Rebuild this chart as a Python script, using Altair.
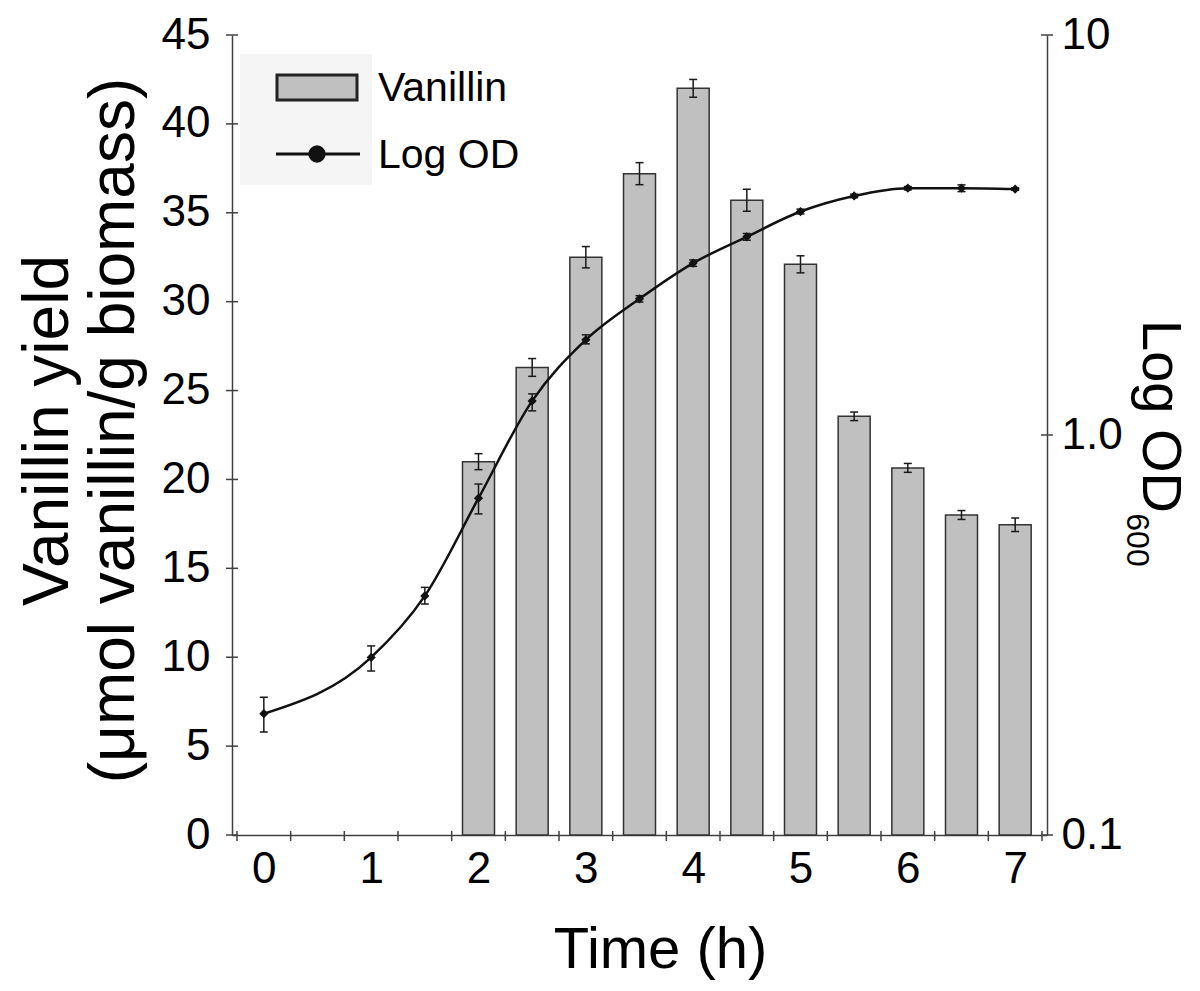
import altair as alt
import pandas as pd

# ---- data ----
bar_times = [2, 2.5, 3, 3.5, 4, 4.5, 5, 5.5, 6, 6.5, 7]
vanillin = [21.0, 26.3, 32.5, 37.2, 42.0, 35.7, 32.1, 23.55, 20.65, 18.0, 17.45]
vanillin_err = [0.45, 0.5, 0.6, 0.62, 0.5, 0.62, 0.48, 0.24, 0.25, 0.25, 0.38]

od_times = [0, 1, 1.5, 2, 2.5, 3, 3.5, 4, 4.5, 5, 5.5, 6, 6.5, 7]
od = [0.201, 0.278, 0.396, 0.695, 1.217, 1.73, 2.19, 2.69, 3.13, 3.62, 3.96, 4.14, 4.14, 4.12]
od_lo = [0.181, 0.257, 0.378, 0.635, 1.149, 1.69, 2.15, 2.64, 3.07, 3.57, 3.92, 4.10, 4.06, 4.09]
od_hi = [0.221, 0.297, 0.416, 0.754, 1.267, 1.78, 2.23, 2.74, 3.19, 3.67, 4.00, 4.18, 4.22, 4.15]

x_tick_positions = [-0.25, 0.25, 0.75, 1.25, 1.75, 2.25, 2.75, 3.25, 3.75,
                    4.25, 4.75, 5.25, 5.75, 6.25, 6.75, 7.25]
x_labels = [0, 1, 2, 3, 4, 5, 6, 7]
left_ticks = [0, 5, 10, 15, 20, 25, 30, 35, 40, 45]
right_ticks = [0.1, 1, 10]
legend_names = ["Vanillin", "Log OD"]

FONT = "Liberation Sans"
W, H = 815, 800
AX = "#404040"
INK = "#1a1a1a"

bars_df = pd.DataFrame({
    "t": bar_times, "v": vanillin,
    "lo": [v - e for v, e in zip(vanillin, vanillin_err)],
    "hi": [v + e for v, e in zip(vanillin, vanillin_err)],
})
od_df = pd.DataFrame({"t": od_times, "od": od, "lo": od_lo, "hi": od_hi})
xt_df = pd.DataFrame({"t": x_tick_positions})
lt_df = pd.DataFrame({"v": left_ticks})
rt_df = pd.DataFrame({"od": right_ticks})

x_axis = alt.Axis(values=x_labels, ticks=False, tickSize=0, grid=False,
                  domainColor=AX, domainWidth=1.5, labelFontSize=44,
                  labelPadding=12, labelFlush=False, labelColor="black",
                  title="Time (h)", titleFontSize=58, titleFontWeight="normal",
                  titleX=428, titleY=132, titleAlign="center",
                  titleBaseline="alphabetic", titleColor="black")
x_scale = alt.Scale(domain=[-0.25, 7.25], nice=False, zero=False)


def X(field="t"):
    return alt.X(f"{field}:Q", scale=x_scale, axis=x_axis)


left_axis = alt.Axis(values=left_ticks, ticks=False, tickSize=0, grid=False,
                     domainColor=AX, domainWidth=1.5, labelFontSize=44,
                     labelPadding=22, labelFlush=False, labelColor="black",
                     title=["Vanillin yield", "(\u03bcmol vanillin/g biomass)"],
                     titleFontSize=64, titleLineHeight=66, titleFontWeight="normal",
                     titleAngle=270, titleX=-184, titleY=395, titleAlign="center",
                     titleBaseline="middle", titleColor="black")
left_scale = alt.Scale(domain=[0, 45], nice=False, zero=True)


def YL(field):
    return alt.Y(f"{field}:Q", scale=left_scale, axis=left_axis)


right_axis = alt.Axis(orient="right", values=right_ticks, ticks=False, tickSize=0,
                      grid=False, domainColor=AX, domainWidth=1.5, labelFontSize=44,
                      labelPadding=14, labelFlush=False, labelColor="black",
                      labelExpr="datum.value >= 10 ? '10' : format(datum.value, '.1f')",
                      title="Log OD", titleFontSize=56, titleFontWeight="normal",
                      titleAngle=90, titleX=112, titleY=381, titleAlign="center",
                      titleBaseline="middle", titleColor="black")
right_scale = alt.Scale(type="log", domain=[0.1, 10], nice=False)


def YR(field):
    return alt.Y(f"{field}:Q", scale=right_scale, axis=right_axis)


# ---- left (vanillin) layer ----
bars = alt.Chart(bars_df).mark_bar(size=32, fill="#c0c0c0", stroke="#333333",
                                   strokeWidth=1.5).encode(x=X(), y=YL("v"))
bar_err = alt.Chart(bars_df).mark_rule(color=INK, strokeWidth=1.5).encode(
    x=X(), y=YL("lo"), y2="hi:Q")
bar_cap_hi = alt.Chart(bars_df).mark_tick(orient="horizontal", size=8, thickness=1.5,
                                          color=INK, opacity=1).encode(x=X(), y=YL("hi"))
bar_cap_lo = alt.Chart(bars_df).mark_tick(orient="horizontal", size=8, thickness=1.5,
                                          color=INK, opacity=1).encode(x=X(), y=YL("lo"))
lticks = alt.Chart(lt_df).mark_rule(color=AX, strokeWidth=1.5).encode(
    y=YL("v"), x=alt.value(-6), x2=alt.value(6))
xticks = alt.Chart(xt_df).mark_rule(color=AX, strokeWidth=1.5).encode(
    x=X(), y=alt.value(H - 4), y2=alt.value(H + 6))

left = alt.layer(bars, bar_err, bar_cap_hi, bar_cap_lo, lticks, xticks)

# ---- right (OD) layer ----
line = alt.Chart(od_df).mark_line(color="#111111", strokeWidth=2.5,
                                  interpolate="monotone").encode(x=X(), y=YR("od"))
pts = alt.Chart(od_df).mark_point(shape="diamond", filled=True, size=85,
                                  color="#111111", opacity=1).encode(x=X(), y=YR("od"))
od_err = alt.Chart(od_df).mark_rule(color=INK, strokeWidth=1.5).encode(
    x=X(), y=YR("lo"), y2="hi:Q")
od_cap_hi = alt.Chart(od_df).mark_tick(orient="horizontal", size=8, thickness=1.5,
                                       color=INK, opacity=1).encode(x=X(), y=YR("hi"))
od_cap_lo = alt.Chart(od_df).mark_tick(orient="horizontal", size=8, thickness=1.5,
                                       color=INK, opacity=1).encode(x=X(), y=YR("lo"))
rticks = alt.Chart(rt_df).mark_rule(color=AX, strokeWidth=1.5).encode(
    y=YR("od"), x=alt.value(W - 6), x2=alt.value(W + 6))

right = alt.layer(line, od_err, od_cap_hi, od_cap_lo, pts, rticks)

# ---- legend & subscript ----
one = pd.DataFrame({"k": [0]})
leg_box = alt.Chart(one).mark_rect(fill="#f5f5f5").encode(
    x=alt.value(8), x2=alt.value(140), y=alt.value(19), y2=alt.value(150))
leg_bar = alt.Chart(one).mark_rect(fill="#c0c0c0", stroke="#222222", strokeWidth=3).encode(
    x=alt.value(45), x2=alt.value(125), y=alt.value(40), y2=alt.value(65))
leg_line = alt.Chart(one).mark_rule(color="#111111", strokeWidth=3).encode(
    x=alt.value(44), x2=alt.value(128), y=alt.value(119))
leg_dot = alt.Chart(one).mark_point(shape="circle", filled=True, size=300,
                                    color="#111111", opacity=1).encode(
    x=alt.value(85), y=alt.value(119))
leg_t1 = alt.Chart(pd.DataFrame({"name": [legend_names[0]]})).mark_text(
    font=FONT, fontSize=41, align="left", baseline="middle", color="black").encode(
    text="name:N", x=alt.value(146), y=alt.value(54))
leg_t2 = alt.Chart(pd.DataFrame({"name": [legend_names[1]]})).mark_text(
    font=FONT, fontSize=41, align="left", baseline="middle", color="black").encode(
    text="name:N", x=alt.value(146), y=alt.value(121))
sub600 = alt.Chart(pd.DataFrame({"s": ["600"]})).mark_text(
    font=FONT, fontSize=32, angle=90, align="center", baseline="middle",
    color="black").encode(text="s:N", x=alt.value(905), y=alt.value(505))

chart = alt.layer(
    left, right, leg_box, leg_bar, leg_line, leg_dot, leg_t1, leg_t2, sub600
).resolve_scale(y="independent").properties(
    width=W, height=H,
    autosize=alt.AutoSizeParams(type="none"),
    padding={"left": 224, "top": 27, "right": 145, "bottom": 148},
    background="white",
).configure_view(stroke=None).configure_axis(
    labelFont=FONT, titleFont=FONT
).configure_text(font=FONT)

chart.save("out.html", embed_options={"renderer": "svg", "actions": False})
